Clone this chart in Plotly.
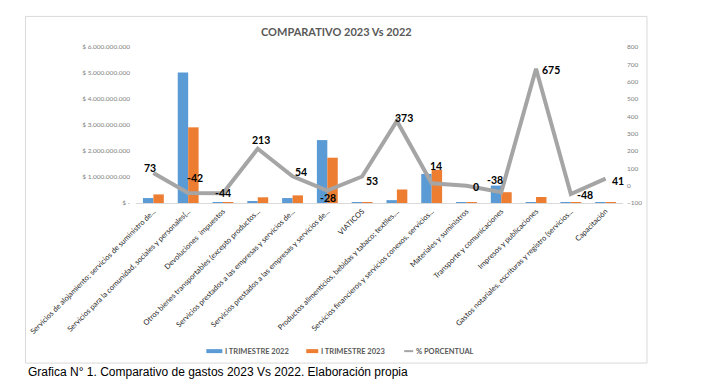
import plotly.graph_objects as go

categories = [
    "Servicios de alojamiento; servicios de suministro de...",
    "Servicios para la comunidad, sociales y personales(...",
    "Devoluciones\u00a0 impuestos",
    "Otros bienes transportables (excepto productos...",
    "Servicios prestados a las empresas y servicios de...",
    "Servicios prestados a las empresas y servicios de...",
    "VIATICOS",
    "Productos alimenticios, bebidas y tabaco; textiles,...",
    "Servicios financieros y servicios conexos, servicios...",
    "Materiales y suministros",
    "Transporte y comunicaciones",
    "Impresos y publicaciones",
    "Gastos notariales, escrituras y registro (servicios...",
    "Capacitación",
]
trimestre_2022 = [190e6, 5020e6, 9e6, 70e6, 190e6, 2420e6, 6e6, 110e6, 1120e6, 5e6, 670e6, 30e6, 10e6, 15e6]
trimestre_2023 = [330e6, 2910e6, 5e6, 219e6, 293e6, 1742e6, 9.2e6, 520e6, 1277e6, 5e6, 415e6, 232e6, 5.2e6, 21e6]
porcentual = [73, -42, -44, 213, 54, -28, 53, 373, 14, 0, -38, 675, -48, 41]

left_tickvals = [0, 1e9, 2e9, 3e9, 4e9, 5e9, 6e9]
left_ticktext = ["$ -", "$ 1.000.000.000", "$ 2.000.000.000", "$ 3.000.000.000",
                 "$ 4.000.000.000", "$ 5.000.000.000", "$ 6.000.000.000"]

series_names = ["I TRIMESTRE 2022", "I TRIMESTRE 2023", "% PORCENTUAL"]
series_colors = ["#5b9bd5", "#ed7d31", "#a5a5a5"]

# label offsets (style only, px)
label_dx = [-3, 7, 0, 3, 8, 1, 10, 7, 4, 10, -6, 15, 14, 12]
label_dy = [5, 15, 0, 9, 4, -7, -5, 3, 17, -1, 12, -1, -1, -2]

x = list(range(len(categories)))

# page places the figure at an 8px body margin; compensate
OFF = 8
W, H = 708 - OFF, 380 - OFF

fig = go.Figure()
fig.add_trace(go.Bar(x=x, y=trimestre_2022, name=series_names[0],
                     marker=dict(color=series_colors[0], line=dict(width=0))))
fig.add_trace(go.Bar(x=x, y=trimestre_2023, name=series_names[1],
                     marker=dict(color=series_colors[1], line=dict(width=0))))
fig.add_trace(go.Scatter(x=x, y=porcentual, name=series_names[2], yaxis="y2",
                         mode="lines", line=dict(color=series_colors[2], width=4)))

for xi, v, dx, dy in zip(x, porcentual, label_dx, label_dy):
    fig.add_annotation(x=xi, y=v, xref="x", yref="y2", text=f"<b>{v}</b>",
                       showarrow=False, xanchor="center", yanchor="middle",
                       xshift=dx, yshift=dy,
                       font=dict(family="Lato", size=10.5, color="#000000"))

# plot area in reference pixel coordinates
PL, PR, PT, PB = 135.6, 623, 46.7, 203.3
L, T = PL - OFF, PT - OFF
R, B = W - (PR - OFF), H - (PB - OFF)
pw = PR - PL
ph = PB - PT

def px_x(p):
    return (p - PL) / pw

def px_y(p):
    return (PB - p) / ph

# outer chart border
fig.add_shape(type="rect", xref="paper", yref="paper",
              x0=px_x(25), x1=px_x(647), y0=px_y(364), y1=px_y(16),
              line=dict(color="#d9d9d9", width=1), fillcolor="rgba(0,0,0,0)", layer="below")

fig.add_annotation(xref="paper", yref="paper", x=px_x(336), y=px_y(31),
                   text="<b>COMPARATIVO 2023 Vs 2022</b>", showarrow=False,
                   xanchor="center", yanchor="middle",
                   font=dict(family="Lato", size=11, color="#595959"))

fig.add_annotation(xref="paper", yref="paper", x=px_x(26), y=px_y(373),
                   text="Grafica N° 1. Comparativo de gastos 2023 Vs 2022. Elaboración propia",
                   showarrow=False, xanchor="left", yanchor="middle",
                   font=dict(family="Liberation Sans", size=12, color="#000000"))

# custom legend (compact, like the reference)
leg_y = 352
swatches = [(206, 222), (306, 318), (404, 413)]
for i, (sx0, sx1) in enumerate(swatches):
    if i < 2:
        fig.add_shape(type="rect", xref="paper", yref="paper",
                      x0=px_x(sx0), x1=px_x(sx1), y0=px_y(leg_y + 2), y1=px_y(leg_y - 2),
                      line=dict(width=0), fillcolor=series_colors[i])
    else:
        fig.add_shape(type="line", xref="paper", yref="paper",
                      x0=px_x(sx0), x1=px_x(sx1), y0=px_y(leg_y), y1=px_y(leg_y),
                      line=dict(color=series_colors[i], width=2))
    fig.add_annotation(xref="paper", yref="paper", x=px_x(sx1 + 1), y=px_y(leg_y),
                       text=f"<b>{series_names[i]}</b>", showarrow=False,
                       xanchor="left", yanchor="middle",
                       font=dict(family="Lato", size=7.5, color="#595959"))

fig.update_layout(
    width=W, height=H,
    margin=dict(l=L, r=R, t=T, b=B, autoexpand=False),
    paper_bgcolor="white", plot_bgcolor="white",
    barmode="group", bargap=0.4, bargroupgap=0,
    showlegend=False,
    xaxis=dict(tickmode="array", tickvals=x, ticktext=categories, tickangle=-45,
               range=[-0.5, len(categories) - 0.5],
               showline=True, linecolor="#d9d9d9", linewidth=1, ticks="",
               showgrid=False, zeroline=False,
               tickfont=dict(family="Lato", size=7.5, color="#262626")),
    yaxis=dict(range=[0, 6e9], tickmode="array", tickvals=left_tickvals, ticktext=left_ticktext,
               showgrid=False, zeroline=False, showline=False, ticks="",
               ticklabelstandoff=5,
               tickfont=dict(family="Lato", size=6.5, color="#808080")),
    yaxis2=dict(range=[-100, 800], dtick=100, overlaying="y", side="right",
                showgrid=False, zeroline=False, showline=False, ticks="",
                ticklabelstandoff=3,
                tickfont=dict(family="Lato", size=6.5, color="#808080")),
)

fig.write_html("out.html")
